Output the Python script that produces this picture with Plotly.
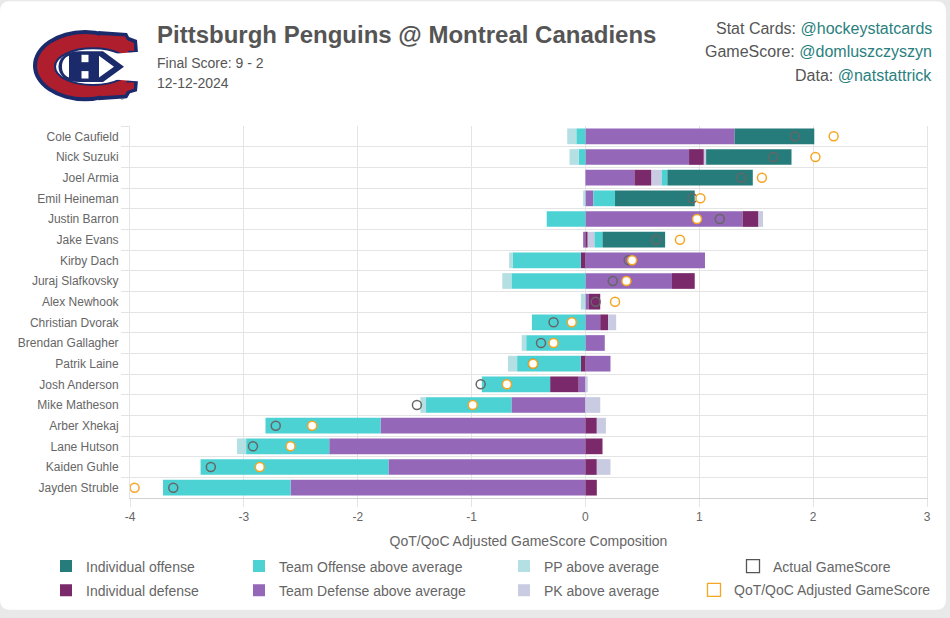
import plotly.graph_objects as go

# ---------------- data ----------------
players = ["Cole Caufield", "Nick Suzuki", "Joel Armia", "Emil Heineman", "Justin Barron",
           "Jake Evans", "Kirby Dach", "Juraj Slafkovsky", "Alex Newhook", "Christian Dvorak",
           "Brendan Gallagher", "Patrik Laine", "Josh Anderson", "Mike Matheson", "Arber Xhekaj",
           "Lane Hutson", "Kaiden Guhle", "Jayden Struble"]

ind_off = [0.70, 0.75, 0.75, 0.70, 0.00, 0.55, 0.00, 0.00, 0.00, 0.00,
           0.00, 0.00, 0.00, 0.00, 0.00, 0.00, 0.00, 0.00]
team_off = [-0.08, -0.06, 0.05, 0.19, -0.34, 0.07, -0.60, -0.65, 0.00, -0.47,
            -0.52, -0.56, -0.60, -0.75, -1.01, -0.73, -1.65, -1.12]
pp_avg = [-0.08, -0.08, 0.00, -0.02, 0.00, 0.00, -0.03, -0.08, -0.04, 0.00,
          -0.04, -0.08, 0.00, -0.05, 0.00, -0.08, 0.00, 0.00]
ind_def = [0.00, 0.13, 0.15, 0.00, 0.14, 0.02, -0.04, 0.20, 0.10, 0.07,
           0.00, -0.04, -0.25, 0.00, 0.10, 0.15, 0.10, 0.10]
team_def = [1.31, 0.91, 0.43, 0.07, 1.38, -0.02, 1.05, 0.76, 0.03, 0.13,
            0.17, 0.22, -0.06, -0.65, -1.80, -2.25, -1.73, -2.59]
pk_avg = [0.00, 0.02, 0.09, 0.00, 0.04, 0.06, 0.00, 0.00, 0.00, 0.07,
          0.00, 0.00, 0.02, 0.13, 0.08, 0.00, 0.12, 0.00]
actual_gs = [1.84, 1.65, 1.37, 0.94, 1.18, 0.62, 0.38, 0.24, 0.09, -0.28,
             -0.39, -0.46, -0.92, -1.48, -2.72, -2.92, -3.29, -3.62]
qot_gs = [2.18, 2.02, 1.55, 1.01, 0.98, 0.83, 0.41, 0.36, 0.26, -0.12,
          -0.28, -0.46, -0.69, -0.99, -2.40, -2.59, -2.86, -3.96]

x_ticks = [-4, -3, -2, -1, 0, 1, 2, 3]

# ---------------- style ----------------
FONT = "Liberation Sans, Arial, Helvetica, sans-serif"
C_IND_OFF = "#267b7b"
C_TEAM_OFF = "#4dd2d4"
C_PP = "#b4dfe3"
C_IND_DEF = "#7a2a6a"
C_TEAM_DEF = "#9467b8"
C_PK = "#c9cbe3"
C_ACT = "#666666"
C_QOT = "#f5a623"
TEXT = "#666666"
GRID = "#e4e4e4"

W, H = 950, 618
L, R, T, B = 130, 927, 126, 502


def X(px):
    return (px - L) / (R - L)


def Y(py):
    return (B - py) / (B - T)


def path(cmds):
    out = []
    for c, pts in cmds:
        out.append(c + " ".join(f"{X(x):.5f},{Y(y):.5f}" for x, y in pts))
    return " ".join(out) + " Z"


fig = go.Figure()

bar_specs = [
    ("Team Defense above average", team_def, C_TEAM_DEF, "legend2", 2),
    ("Individual defense", ind_def, C_IND_DEF, "legend", 2),
    ("PK above average", pk_avg, C_PK, "legend3", 2),
    ("Team Offense above average", team_off, C_TEAM_OFF, "legend2", 1),
    ("PP above average", pp_avg, C_PP, "legend3", 1),
    ("Individual offense", ind_off, C_IND_OFF, "legend", 1),
]
for name, vals, col, lg, rank in bar_specs:
    fig.add_trace(go.Bar(
        y=players, x=vals, orientation="h", name=name,
        marker=dict(color=col, line=dict(width=0)),
        legend=lg, legendrank=rank, legendgroup=name,
    ))

fig.add_trace(go.Scatter(
    y=players, x=actual_gs, mode="markers", name="Actual GameScore",
    marker=dict(symbol="circle-open", size=9, color=C_ACT, line=dict(width=1.5, color=C_ACT)),
    showlegend=False,
))
fig.add_trace(go.Scatter(
    y=players, x=qot_gs, mode="markers", name="QoT/QoC Adjusted GameScore",
    marker=dict(symbol="circle", size=9, color="white", line=dict(width=1.5, color=C_QOT)),
    showlegend=False,
))
# legend swatches for the point series
fig.add_trace(go.Scatter(
    x=[None], y=[None], mode="markers", name="Actual GameScore",
    marker=dict(symbol="square-open", size=13, color="#555555", line=dict(width=1.3)),
    legend="legend4", legendgroup="act",
))
fig.add_trace(go.Scatter(
    x=[None], y=[None], mode="markers", name="QoT/QoC Adjusted GameScore",
    marker=dict(symbol="square-open", size=13, color=C_QOT, line=dict(width=1.3)),
    legend="legend5", legendgroup="qot",
))

leg_common = dict(orientation="v", xanchor="left", yanchor="top",
                  font=dict(family=FONT, size=14, color=TEXT),
                  bgcolor="rgba(0,0,0,0)", borderwidth=0, tracegroupgap=3,
                  itemclick=False, itemdoubleclick=False)
LEG_TOP = 555

shapes = []
# white card
shapes.append(dict(type="path", xref="paper", yref="paper", layer="below",
                   path=path([("M", [(10, 0)]), ("L", [(936, 0)]), ("Q", [(946, 0), (946, 10)]),
                              ("L", [(946, 605)]), ("Q", [(946, 615), (936, 615)]),
                              ("L", [(10, 615)]), ("Q", [(0, 615), (0, 605)]),
                              ("L", [(0, 10)]), ("Q", [(0, 0), (10, 0)])]),
                   fillcolor="white", line=dict(width=0)))
# logo
BLUE = "#1b2a6b"
RED = "#af1e2d"


def add_shape(**kw):
    d = dict(xref="paper", yref="paper", line=dict(width=0))
    d.update(kw)
    shapes.append(d)


add_shape(type="circle", x0=X(33), x1=X(137), y0=Y(29), y1=Y(101), fillcolor=BLUE)
# C tips (blue outline)
add_shape(type="path", fillcolor=BLUE,
          path=path([("M", [(98, 30)]), ("L", [(127, 32)]), ("L", [(129, 36)]), ("L", [(137, 39)]),
                     ("L", [(138, 52)]), ("L", [(112, 52)])]))
add_shape(type="path", fillcolor=BLUE,
          path=path([("M", [(98, 100)]), ("L", [(127, 98)]), ("L", [(130, 93)]), ("L", [(137, 91)]),
                     ("L", [(138, 80)]), ("L", [(112, 80)])]))
add_shape(type="circle", x0=X(37), x1=X(133), y0=Y(33), y1=Y(97), fillcolor=RED)
add_shape(type="path", fillcolor=RED,
          path=path([("M", [(100, 34)]), ("L", [(125, 35.5)]), ("L", [(127, 39)]), ("L", [(134, 42)]),
                     ("L", [(134, 50)]), ("L", [(112, 50)])]))
add_shape(type="path", fillcolor=RED,
          path=path([("M", [(100, 96)]), ("L", [(125, 94.5)]), ("L", [(127, 91)]), ("L", [(134, 88)]),
                     ("L", [(134, 82)]), ("L", [(112, 82)])]))
# opening + interior
add_shape(type="circle", x0=X(55), x1=X(131), y0=Y(47.5), y1=Y(84.5), fillcolor="white",
          line=dict(width=2, color=BLUE))
add_shape(type="path", fillcolor="white",
          path=path([("M", [(114, 53)]), ("L", [(140, 51)]), ("L", [(140, 81)]), ("L", [(114, 79)])]))
add_shape(type="path", fillcolor=BLUE,
          path=path([("M", [(80, 50.5)]), ("C", [(65, 50.5), (58.5, 58), (58.5, 66)]),
                     ("C", [(58.5, 74), (65, 81.5), (80, 81.5)]), ("L", [(103, 81.5)]),
                     ("L", [(124, 66)]), ("L", [(103, 50.5)])]))
add_shape(type="path", fillcolor="white",
          path=path([("M", [(69, 55)]), ("C", [(64, 57), (62, 61), (62, 66)]),
                     ("C", [(62, 71), (64, 75), (69, 77)])]))
for (a, b) in [(54, 61.5), (70.5, 78)]:
    add_shape(type="rect", x0=X(81.5), x1=X(88.5), y0=Y(a), y1=Y(b), fillcolor="white")
add_shape(type="path", fillcolor="white",
          path=path([("M", [(99, 55)]), ("L", [(99, 77)]), ("L", [(114, 66)])]))

annotations = []
annotations.append(dict(x=X(122), y=Y(98), xref="paper", yref="paper", text="®", showarrow=False,
                        font=dict(family=FONT, size=6, color=BLUE), xanchor="center", yanchor="middle"))
annotations.append(dict(x=X(155), y=Y(34), xref="paper", yref="paper",
                        text="<b>Pittsburgh Penguins @ Montreal Canadiens</b>", showarrow=False,
                        font=dict(family=FONT, size=24, color="#555555"), xanchor="left", yanchor="middle"))
annotations.append(dict(x=X(155), y=Y(62), xref="paper", yref="paper", text="Final Score: 9 - 2",
                        showarrow=False, font=dict(family=FONT, size=14, color="#555555"),
                        xanchor="left", yanchor="middle"))
annotations.append(dict(x=X(155), y=Y(83), xref="paper", yref="paper", text="12-12-2024",
                        showarrow=False, font=dict(family=FONT, size=14, color="#555555"),
                        xanchor="left", yanchor="middle"))
LINK = "#2a7f7e"
for txt, handle, yy in [("Stat Cards: ", "@hockeystatcards", 27),
                        ("GameScore: ", "@domluszczyszyn", 51),
                        ("Data: ", "@natstattrick", 75)]:
    annotations.append(dict(x=X(934), y=Y(yy), xref="paper", yref="paper",
                            text=f"{txt}<span style='color:{LINK}'>{handle}</span>",
                            showarrow=False, font=dict(family=FONT, size=16, color="#555555"),
                            xanchor="right", yanchor="middle"))

fig.update_layout(
    width=W, height=H,
    margin=dict(l=L, r=W - R, t=T, b=H - B, pad=0),
    paper_bgcolor="#e9e9e9", plot_bgcolor="rgba(0,0,0,0)",
    barmode="relative", bargap=0.24,
    font=dict(family=FONT, size=12, color=TEXT),
    shapes=shapes, annotations=annotations,
    legend=dict(x=X(46), y=Y(LEG_TOP), **leg_common),
    legend2=dict(x=X(239), y=Y(LEG_TOP), **leg_common),
    legend3=dict(x=X(504), y=Y(LEG_TOP), **leg_common),
    legend4=dict(x=X(733), y=Y(LEG_TOP), **leg_common),
    legend5=dict(x=X(694), y=Y(LEG_TOP + 24), **leg_common),
    xaxis=dict(range=[-4, 3], tickvals=x_ticks, ticktext=[str(v) for v in x_ticks],
               showgrid=True, gridcolor=GRID, gridwidth=1, zeroline=False,
               ticks="outside", ticklen=8, tickcolor=GRID,
               showline=True, linecolor="#d2d2d2", linewidth=1,
               tickfont=dict(family=FONT, size=12, color=TEXT),
               title=dict(text="QoT/QoC Adjusted GameScore Composition", standoff=12,
                          font=dict(family=FONT, size=14, color=TEXT))),
    yaxis=dict(type="category", categoryorder="array", categoryarray=players,
               range=[len(players) - 0.5, -0.5], autorange=False,
               tickson="boundaries", ticks="outside", ticklen=8, tickcolor=GRID,
               ticklabelstandoff=8,
               showgrid=True, gridcolor=GRID, gridwidth=1,
               showline=True, linecolor=GRID, mirror=True,
               tickfont=dict(family=FONT, size=12, color=TEXT)),
    hovermode="closest",
)

fig.write_html("out.html", config={"displayModeBar": False},
               post_script="document.body.style.margin='0';document.body.style.overflow='hidden';")
